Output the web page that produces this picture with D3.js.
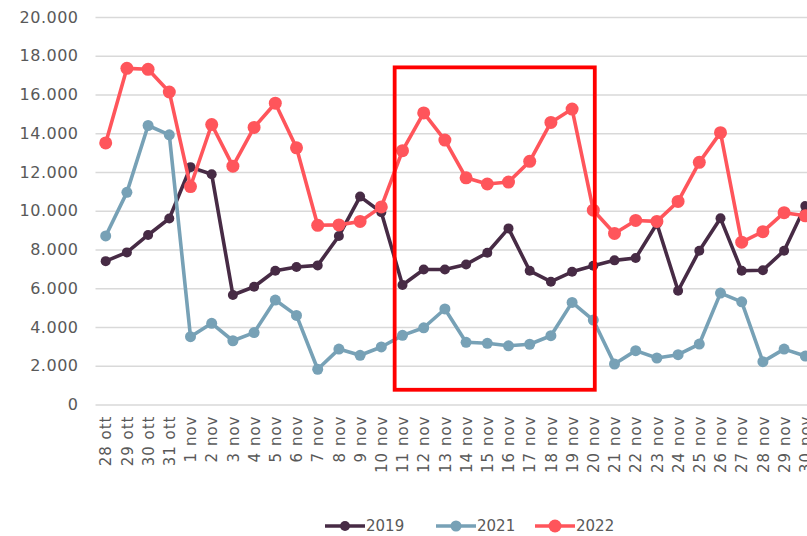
<!DOCTYPE html>
<html>
<head>
<meta charset="utf-8">
<script src="https://cdn.jsdelivr.net/npm/d3@7"></script>
<style>
  html, body { margin: 0; padding: 0; background: #fff; overflow: hidden; }
  svg { display: block; }
  text { font-family: "DejaVu Sans", "Noto Sans", sans-serif; fill: #595959; }
</style>
</head>
<body>
<svg id="chart" width="807" height="536"></svg>
<script>
// Daily counts, 28 October – 30 November
const categories = [
  "28 ott","29 ott","30 ott","31 ott",
  "1 nov","2 nov","3 nov","4 nov","5 nov","6 nov","7 nov","8 nov","9 nov","10 nov",
  "11 nov","12 nov","13 nov","14 nov","15 nov","16 nov","17 nov","18 nov","19 nov","20 nov",
  "21 nov","22 nov","23 nov","24 nov","25 nov","26 nov","27 nov","28 nov","29 nov","30 nov"
];

const values2019 = [
  7400, 7850, 8750, 9600,
  12250, 11880, 5650, 6080, 6900, 7100, 7180, 8700, 10730, 9920,
  6170, 6970, 6970, 7230, 7830, 9090, 6900, 6340, 6850, 7160,
  7440, 7560, 9330, 5870, 7940, 9610, 6900, 6930, 7940, 10240
];

const values2021 = [
  8700, 10950, 14400, 13920,
  3500, 4190, 3290, 3710, 5390, 4600, 1820, 2860, 2540, 2970,
  3570, 3960, 4930, 3210, 3160, 3030, 3110, 3550, 5270, 4360,
  2090, 2780, 2400, 2570, 3120, 5750, 5300, 2210, 2860, 2500
];

const values2022 = [
  13500, 17350, 17300, 16130,
  11250, 14450, 12300, 14300, 15550, 13250, 9250, 9270, 9450, 10200,
  13100, 15050, 13650, 11700, 11380, 11480, 12550, 14560, 15250, 10030,
  8830, 9500, 9450, 10480, 12500, 14030, 8380, 8920, 9900, 9740
];

const seriesNames = ["2019", "2021", "2022"];
const yTicks = [0, 2000, 4000, 6000, 8000, 10000, 12000, 14000, 16000, 18000, 20000];

// Highlighted stretch: category-index span and value span
const highlightIndex = [13.63, 23.07];
const highlightValue = [760, 17400];

const series = [
  { name: seriesNames[0], values: values2019, color: "#472b45", r: 5 },
  { name: seriesNames[1], values: values2021, color: "#77a1b6", r: 5.5 },
  { name: seriesNames[2], values: values2022, color: "#ff555b", r: 6.5 }
];

const svg = d3.select("#chart");

const plot = { left: 95.5, right: 816, top: 17, bottom: 404.5 };

const x = d3.scalePoint()
  .domain(categories)
  .range([105.7, 805.3]);

const xIdx = d3.scaleLinear()
  .domain([0, categories.length - 1])
  .range([105.7, 805.3]);

const y = d3.scaleLinear()
  .domain([0, 20000])
  .range([plot.bottom, plot.top]);

const it = d3.formatLocale({ decimal: ",", thousands: ".", grouping: [3], currency: ["€", ""] });
const fmt = it.format(",");

// Y axis with gridlines
const yAxis = svg.append("g")
  .attr("transform", `translate(${plot.left},0)`)
  .call(d3.axisLeft(y)
    .tickValues(yTicks)
    .tickFormat(fmt)
    .tickSize(-(plot.right - plot.left))
    .tickPadding(17));
yAxis.select(".domain").remove();
yAxis.selectAll(".tick line").attr("stroke", "#d9d9d9").attr("stroke-width", 1.3);
yAxis.selectAll(".tick text")
  .attr("font-size", 16)
  .attr("letter-spacing", 0.5)
  .style("font-family", "'DejaVu Sans', sans-serif")
  .attr("fill", "#595959");

// X axis labels, rotated
const xAxis = svg.append("g")
  .attr("transform", `translate(0,${plot.bottom})`)
  .call(d3.axisBottom(x).tickSize(0).tickPadding(0));
xAxis.select(".domain").remove();
xAxis.selectAll(".tick text")
  .attr("font-size", 15)
  .attr("letter-spacing", 1)
  .style("font-family", "'DejaVu Sans', sans-serif")
  .attr("fill", "#595959")
  .attr("text-anchor", "end")
  .attr("dy", "0.35em")
  .attr("transform", "translate(0,11) rotate(-90)")
  .attr("x", 0)
  .attr("y", 0);

// Lines and markers
const line = d3.line()
  .x((d, i) => x(categories[i]))
  .y(d => y(d));

series.forEach(s => {
  const g = svg.append("g");
  g.append("path")
    .datum(s.values)
    .attr("fill", "none")
    .attr("stroke", s.color)
    .attr("stroke-width", 3.6)
    .attr("stroke-linejoin", "round")
    .attr("d", line);
  g.selectAll("circle")
    .data(s.values)
    .join("circle")
    .attr("cx", (d, i) => x(categories[i]))
    .attr("cy", d => y(d))
    .attr("r", s.r)
    .attr("fill", s.color);
});

// Highlight frame
svg.append("rect")
  .attr("x", xIdx(highlightIndex[0]))
  .attr("y", y(highlightValue[1]))
  .attr("width", xIdx(highlightIndex[1]) - xIdx(highlightIndex[0]))
  .attr("height", y(highlightValue[0]) - y(highlightValue[1]))
  .attr("fill", "none")
  .attr("stroke", "#ff0000")
  .attr("stroke-width", 3.8);

// Legend
const legendItems = [
  { x: 325, s: series[0] },
  { x: 436, s: series[1] },
  { x: 535, s: series[2] }
];
const legend = svg.append("g").attr("transform", "translate(0,526)");
legendItems.forEach(item => {
  const g = legend.append("g").attr("transform", `translate(${item.x},0)`);
  g.append("line")
    .attr("x1", 0).attr("x2", 40)
    .attr("stroke", item.s.color)
    .attr("stroke-width", 3.6);
  g.append("circle")
    .attr("cx", 20).attr("cy", 0)
    .attr("r", item.s.r)
    .attr("fill", item.s.color);
  g.append("text")
    .attr("x", 41)
    .attr("dy", "0.35em")
    .attr("font-size", 15)
    .attr("fill", "#595959")
    .text(item.s.name);
});
</script>
</body>
</html>
